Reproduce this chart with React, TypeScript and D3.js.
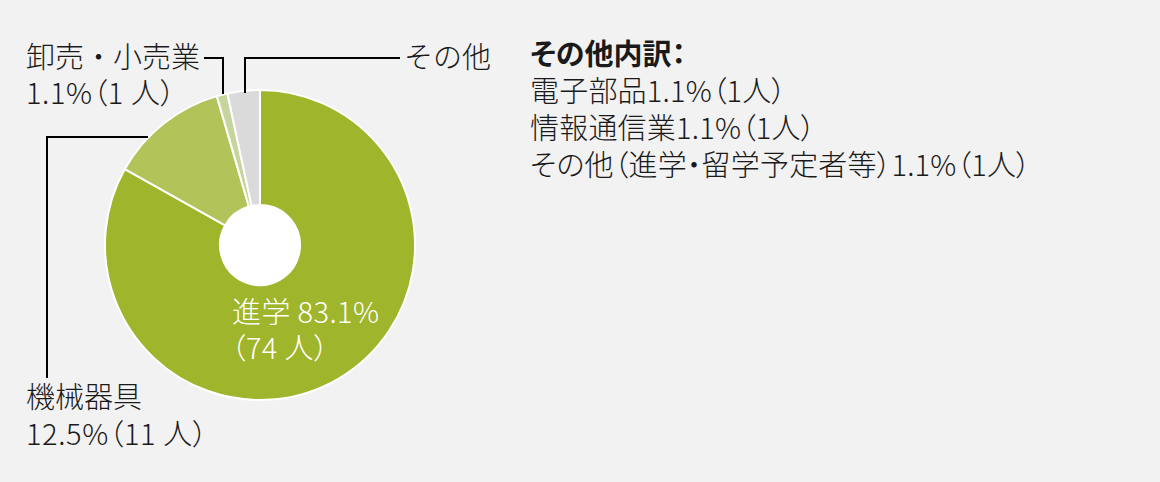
import React from "react";
import * as d3 from "d3";

const categories = ["進学", "機械器具", "卸売・小売業", "その他"];
const counts = [74, 11, 1, 3];
const colors = ["#9fb52b", "#b2c35a", "#c6d59e", "#dadada"];
const breakdownTitle = "その他内訳：";
const breakdownLines = [
  "電子部品1.1%（1人）",
  "情報通信業1.1%（1人）",
  "その他（進学・留学予定者等）1.1%（1人）",
];

const W = 1160;
const H = 482;
const cx = 260;
const cy = 245;
const outerR = 155;
const innerR = 40;
const FONT = "'Noto Sans CJK JP', 'Noto Sans', sans-serif";
const FS = 29;

export default function App() {
  const pie = d3
    .pie<number>()
    .sort(null)
    .value((d) => d)
    .startAngle(0)
    .endAngle(2 * Math.PI);
  const arcs = pie(counts);
  const arcGen = d3
    .arc<d3.PieArcDatum<number>>()
    .innerRadius(innerR)
    .outerRadius(outerR);

  const palt = { fontFeatureSettings: "'palt' 1" } as React.CSSProperties;

  return (
    <div style={{ position: "absolute", left: 0, top: 0 }}>
      <svg width={W} height={H} style={{ display: "block", background: "#f2f2f2" }}>
        <rect width={W} height={H} fill="#f2f2f2" />
        <g transform={`translate(${cx},${cy})`}>
          {arcs.map((a, i) => (
            <path key={i} d={arcGen(a) || ""} fill={colors[i]} stroke="#ffffff" strokeWidth={2} />
          ))}
          <circle r={innerR} fill="#ffffff" />
        </g>
        <g stroke="#000" strokeWidth={2} fill="none">
          <polyline points="204,58 223,58 223,94" />
          <polyline points="245,93 245,58 400,58" />
          <polyline points="148,137 47,137 47,378" />
        </g>
        <g fontFamily={FONT} fontSize={FS} fill="#1a1a1a" fontWeight={300}>
          <text x={26} y={68}>{categories[2]}</text>
          <text x={26} y={104} style={palt} letterSpacing={0.6}>1.1%（1 人）</text>
          <text x={404} y={68}>{categories[3]}</text>
          <text x={26} y={408}>{categories[1]}</text>
          <text x={26} y={445} style={palt} letterSpacing={0.6}>12.5%（11 人）</text>
          <text x={232} y={323} fill="#ffffff" letterSpacing={0.4}>{categories[0]} 83.1%</text>
          <text x={231} y={359} fill="#ffffff" style={palt} letterSpacing={0.4}>（74 人）</text>
          <text x={530} y={65} fontWeight="bold" style={palt}>{breakdownTitle}</text>
          {breakdownLines.map((l, i) => (
            <text key={i} x={530} y={102 + i * 37} style={palt} letterSpacing={0.2}>{l}</text>
          ))}
        </g>
      </svg>
    </div>
  );
}
